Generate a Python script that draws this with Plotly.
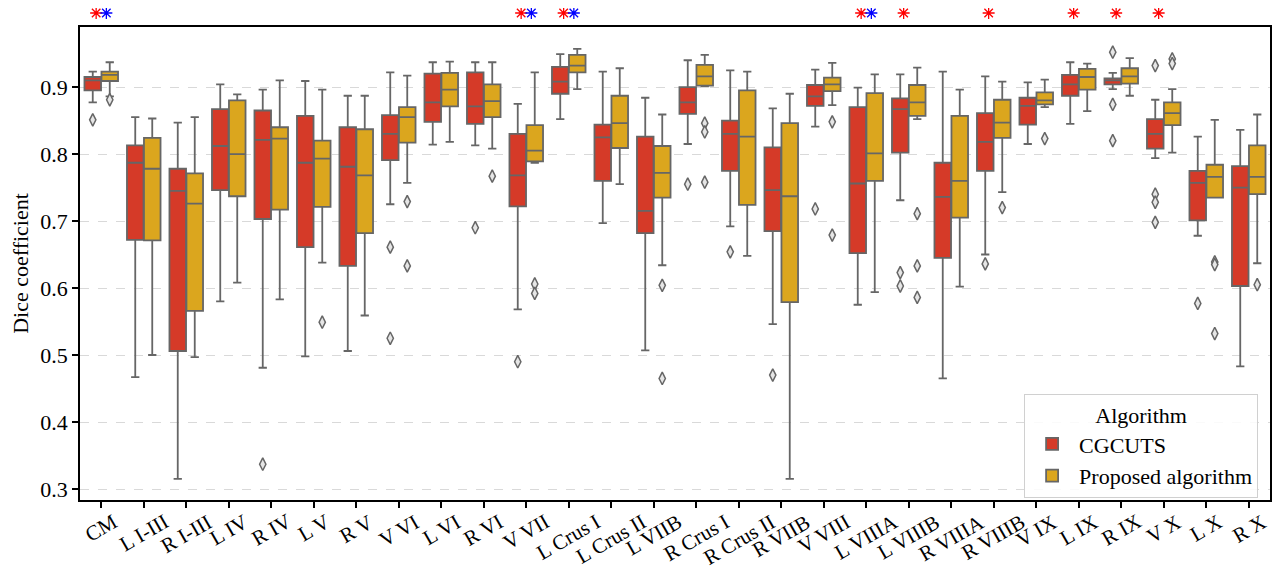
import plotly.graph_objects as go

categories = ["CM", "L I-III", "R I-III", "L IV", "R IV", "L V", "R V", "V VI",
              "L VI", "R VI", "V VII", "L Crus I", "L Crus II", "L VIIB",
              "R Crus I", "R Crus II", "R VIIB", "V VIII", "L VIIIA", "L VIIIB",
              "R VIIIA", "R VIIIB", "V IX", "L IX", "R IX", "V X", "L X", "R X"]

# CGCUTS
cg_low = [0.877, 0.467, 0.315, 0.580, 0.481, 0.498, 0.506, 0.725, 0.814, 0.813,
          0.568, 0.852, 0.697, 0.507, 0.815, 0.692, 0.546, 0.841, 0.575, 0.731,
          0.465, 0.650, 0.815, 0.845, 0.897, 0.794, 0.678, 0.483]
cg_q1 = [0.895, 0.672, 0.506, 0.746, 0.703, 0.661, 0.633, 0.791, 0.848, 0.845,
         0.722, 0.890, 0.760, 0.682, 0.860, 0.775, 0.685, 0.872, 0.652, 0.802,
         0.645, 0.775, 0.844, 0.887, 0.904, 0.808, 0.701, 0.603]
cg_med = [0.910, 0.787, 0.745, 0.812, 0.821, 0.787, 0.781, 0.830, 0.877, 0.871,
          0.768, 0.908, 0.825, 0.715, 0.877, 0.830, 0.746, 0.886, 0.756, 0.867,
          0.736, 0.818, 0.872, 0.904, 0.910, 0.830, 0.757, 0.750]
cg_q3 = [0.915, 0.813, 0.778, 0.867, 0.865, 0.857, 0.840, 0.858, 0.920, 0.922,
         0.830, 0.930, 0.844, 0.826, 0.900, 0.850, 0.810, 0.903, 0.870, 0.883,
         0.787, 0.861, 0.884, 0.918, 0.913, 0.852, 0.775, 0.782]
cg_high = [0.923, 0.855, 0.847, 0.904, 0.896, 0.909, 0.887, 0.922, 0.937, 0.937,
           0.875, 0.949, 0.923, 0.884, 0.940, 0.925, 0.868, 0.926, 0.899, 0.919,
           0.923, 0.916, 0.907, 0.937, 0.921, 0.881, 0.826, 0.836]
cg_outliers = [[0.851], [], [], [], [0.337], [], [], [0.661, 0.525], [], [0.690],
               [0.490], [], [], [], [0.755], [0.654], [0.470], [0.718], [],
               [0.623, 0.603], [], [0.636], [], [], [0.952, 0.874, 0.820],
               [0.932, 0.740, 0.728, 0.698], [0.577], []]

# Proposed algorithm
pr_low = [0.886, 0.500, 0.497, 0.608, 0.583, 0.638, 0.559, 0.757, 0.818, 0.808,
          0.787, 0.897, 0.755, 0.634, 0.901, 0.648, 0.315, 0.873, 0.594, 0.852,
          0.602, 0.743, 0.870, 0.864, 0.887, 0.802, 0.735, 0.637]
pr_q1 = [0.909, 0.671, 0.566, 0.737, 0.717, 0.721, 0.682, 0.817, 0.871, 0.855,
         0.789, 0.922, 0.809, 0.735, 0.902, 0.724, 0.579, 0.894, 0.760, 0.857,
         0.705, 0.824, 0.874, 0.896, 0.905, 0.843, 0.735, 0.740]
pr_med = [0.918, 0.778, 0.726, 0.800, 0.823, 0.793, 0.768, 0.855, 0.896, 0.879,
          0.805, 0.932, 0.846, 0.772, 0.916, 0.826, 0.737, 0.904, 0.801, 0.877,
          0.760, 0.847, 0.880, 0.915, 0.916, 0.861, 0.766, 0.766]
pr_q3 = [0.923, 0.824, 0.771, 0.880, 0.840, 0.820, 0.837, 0.870, 0.921, 0.904,
         0.843, 0.948, 0.887, 0.812, 0.933, 0.895, 0.846, 0.914, 0.891, 0.903,
         0.857, 0.881, 0.892, 0.927, 0.928, 0.877, 0.784, 0.813]
pr_high = [0.937, 0.853, 0.855, 0.889, 0.910, 0.896, 0.887, 0.917, 0.938, 0.937,
           0.922, 0.957, 0.928, 0.859, 0.948, 0.923, 0.890, 0.936, 0.919, 0.929,
           0.896, 0.908, 0.911, 0.935, 0.943, 0.897, 0.851, 0.859]
pr_outliers = [[0.881], [], [], [], [], [0.549], [], [0.729, 0.633], [], [0.767],
               [0.606, 0.592], [], [], [0.604, 0.465], [0.846, 0.833, 0.758], [],
               [], [0.848, 0.679], [], [0.711, 0.633, 0.586], [], [0.720],
               [0.823], [], [], [0.942, 0.935], [0.639, 0.635, 0.532], [0.605]]

# significance markers (categories)
sig_cgcuts = ["CM", "V VII", "L Crus I", "L VIIIA", "L VIIIB", "R VIIIB", "L IX", "R IX", "V X"]
sig_proposed = ["CM", "V VII", "L Crus I", "L VIIIA"]

RED = "#D53A28"
GOLD = "#DBA61E"
EDGE = "#666666"
FONT = "Liberation Serif"
FS = 22
XFS = 21
OFF = 0.2

# figure geometry (page body adds an 8px offset)
W, H = 1276, 564
ML, MR, MT, MB = 72, 14, 0, 72
PLOT_H = H - MT - MB
MAIN_TOP = (PLOT_H - 19) / PLOT_H   # main axes top fraction
STAR_Y = (19 - 5) / 19              # star row inside the thin top strip

fig = go.Figure()
idx = list(range(len(categories)))

series = [
    ("CGCUTS", RED, -OFF, cg_low, cg_q1, cg_med, cg_q3, cg_high, cg_outliers),
    ("Proposed algorithm", GOLD, OFF, pr_low, pr_q1, pr_med, pr_q3, pr_high, pr_outliers),
]
for name, col, off, lo, q1, med, q3, hi, outs in series:
    fig.add_trace(go.Box(
        x=[i + off for i in idx], q1=q1, median=med, q3=q3,
        lowerfence=lo, upperfence=hi, name=name, width=0.39,
        fillcolor=col, line=dict(color=EDGE, width=1.8),
        whiskerwidth=0.5, boxpoints=False, showlegend=True,
    ))
    ox, oy = [], []
    for i, vals in enumerate(outs):
        for v in vals:
            ox.append(i + off)
            oy.append(v)
    fig.add_trace(go.Scatter(
        x=ox, y=oy, mode="markers", showlegend=False,
        marker=dict(symbol="diamond-tall", size=9, color="#e6e6e6",
                    line=dict(color=EDGE, width=1.5)),
    ))

for names, off, col in [(sig_cgcuts, -0.12, "red"), (sig_proposed, 0.12, "blue")]:
    fig.add_trace(go.Scatter(
        x=[categories.index(c) + off for c in names], y=[STAR_Y] * len(names),
        yaxis="y2", mode="markers", showlegend=False, cliponaxis=False,
        marker=dict(symbol="asterisk-open", size=10, color=col,
                    line=dict(color=col, width=1.3)),
    ))

# centred, rotated category labels (matplotlib-style)
for i, c in enumerate(categories):
    fig.add_annotation(
        x=i, y=0, xref="x", yref="paper", text=c, showarrow=False,
        textangle=-30, xanchor="center", yanchor="top", yshift=-7,
        font=dict(family=FONT, size=XFS, color="black"),
    )

fig.update_layout(
    width=W, height=H,
    margin=dict(l=ML, r=MR, t=MT, b=MB),
    paper_bgcolor="white", plot_bgcolor="white",
    boxmode="overlay",
    font=dict(family=FONT, size=FS, color="black"),
    legend=dict(
        x=0.99, y=0.005, xanchor="right", yanchor="bottom",
        bgcolor="rgba(255,255,255,0.85)", bordercolor="#d0d0d0", borderwidth=1,
        title=dict(text="Algorithm", side="top center", font=dict(size=FS)),
        font=dict(size=FS), itemwidth=44,
    ),
    xaxis=dict(
        range=[-0.5, len(categories) - 0.5], tickmode="array",
        tickvals=idx, ticktext=categories, showticklabels=False,
        showline=True, mirror=True, linecolor="black", linewidth=1.5,
        ticks="outside", ticklen=6, tickwidth=1.5, tickcolor="black",
        showgrid=False, zeroline=False, automargin=False, anchor="y",
    ),
    yaxis=dict(
        domain=[0, MAIN_TOP],
        range=[0.2836, 0.9896], dtick=0.1, tick0=0.3, tickformat=".1f",
        showline=True, mirror=True, linecolor="black", linewidth=1.5,
        ticks="outside", ticklen=6, tickwidth=1.5, tickcolor="black",
        showgrid=True, gridcolor="#d9d9d9", griddash="dash", gridwidth=1.2,
        zeroline=False, tickfont=dict(size=FS), automargin=False,
        title=dict(text="Dice coefficient", font=dict(size=FS), standoff=12),
    ),
    yaxis2=dict(
        domain=[MAIN_TOP, 1], range=[0, 1], visible=False, fixedrange=True,
    ),
)

fig.write_html("out.html")
